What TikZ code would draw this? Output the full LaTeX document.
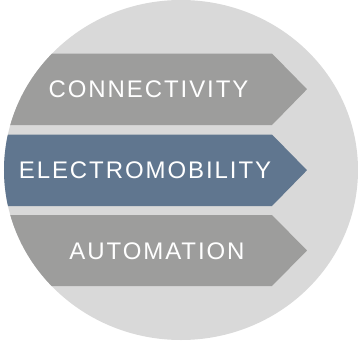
\documentclass[tikz,border=0pt]{standalone}
\usepackage{fontspec}
\setmainfont{Liberation Sans}[LetterSpace=8]
\begin{document}
\begin{tikzpicture}[x=1pt,y=-1pt,
  label/.style={text=white,font=\fontsize{24}{24}\selectfont,inner sep=0pt,anchor=base}]
\definecolor{circ}{HTML}{D9D9D9}
\definecolor{band}{HTML}{9D9D9C}
\definecolor{blueband}{HTML}{60768F}
\useasboundingbox (0,0) rectangle (360,341);
\fill[circ] (181,170) ellipse [x radius=177, y radius=170];
\begin{scope}
\clip (181,170) ellipse [x radius=177, y radius=170];
\fill[band] (-10,53.5) -- (272,53.5) -- (307,89.2) -- (272,125) -- (-10,125) -- cycle;
\fill[blueband] (-10,134.5) -- (272,134.5) -- (307,170.2) -- (272,206) -- (-10,206) -- cycle;
\fill[band] (-10,215) -- (272,215) -- (307,250.5) -- (272,286) -- (-10,286) -- cycle;
\end{scope}
\node[label] (c) at (148.5,97.7) {CONNECTIVITY};
\node[label] (e) at (145,178.3) {ELECTROMOBILITY};
\node[label] (a) at (157,259) {AUTOMATION};
\end{tikzpicture}
\end{document}
